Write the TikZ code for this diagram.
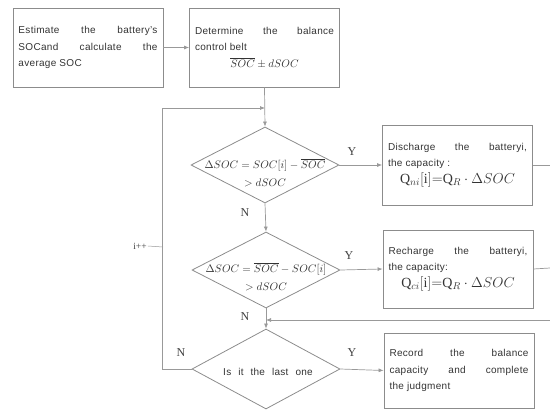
\documentclass[tikz,border=0pt]{standalone}
\usepackage{fontspec}
\setmainfont{Liberation Sans}[LetterSpace=3]
\newfontfamily\seriffont{Liberation Serif}
\setmathrm{Liberation Serif}
\usetikzlibrary{shapes.geometric,arrows.meta}
\begin{document}
\begin{tikzpicture}[x=1pt,y=-1pt,
  box/.style={draw=black!45, line width=0.8pt, minimum width=150pt, minimum height=79pt,
    text width=139pt, align=justify, inner sep=5.5pt,
    font=\fontsize{10}{16.5}\selectfont, text=black!80},
  dia/.style={draw=black!45, line width=0.8pt, shape=diamond, minimum width=148pt,
    minimum height=76pt, inner sep=0pt},
  diatext/.style={font=\fontsize{10.5}{18}\selectfont, text=black!80, align=center, inner sep=0pt},
  conn/.style={draw=black!40, line width=0.7pt},
  arr/.style={conn, -{Latex[length=5pt,width=4pt]}},
  lab/.style={font=\seriffont\fontsize{12}{12}\selectfont, text=black!75, inner sep=1pt}]
\useasboundingbox (0,0) rectangle (550,410);

% boxes
\node[box] (b1) at (88,47.5) {Estimate the battery's\linebreak SOCand calculate the\linebreak average SOC};
\node[box, minimum width=149pt] (b2) at (264.5,47.5) {Determine the balance\linebreak control belt\par
  \makebox[\linewidth]{\fontsize{11}{13}\selectfont$\overline{SOC}\pm dSOC$}};
\node[box, minimum height=80pt, minimum width=149pt] (b3) at (457.5,165) {Discharge the batteryi,\linebreak the capacity :\par
  \makebox[\linewidth]{\fontsize{14}{22}\selectfont$\mathrm{Q}_{ni}[\mathrm{i}]{=}\mathrm{Q}_{R}\cdot\Delta SOC$}};
\node[box, minimum height=78pt] (b4) at (458,269) {Recharge the batteryi,\linebreak the capacity:\par
  \makebox[\linewidth]{\fontsize{14}{22}\selectfont$\mathrm{Q}_{ci}[\mathrm{i}]{=}\mathrm{Q}_{R}\cdot\Delta SOC$}};
\node[box, minimum height=75pt, minimum width=148pt] (b5) at (459,370.5) {Record the balance\linebreak capacity and complete\linebreak the judgment};

% diamonds
\node[dia] (d1) at (265,165) {};
\node[diatext] (t1) at (265,173) {$\Delta SOC = SOC[i]-\overline{SOC}$\\$>dSOC$};
\node[dia] (d2) at (266,270) {};
\node[diatext] (t2) at (266,277) {$\Delta SOC = \overline{SOC}-SOC[i]$\\$>dSOC$};
\node[dia, minimum height=80pt] (d3) at (266,369) {};
\node[font=\fontsize{10}{10}\selectfont, text=black!80] (t3) at (268,372) {Is\hspace{7pt}it\hspace{7pt}the\hspace{7pt}last\hspace{7pt}one};

% junction / free-end coordinates
\coordinate (j1) at (265,108);
\coordinate (j2) at (266,320);
\coordinate (o1) at (550,165);
\coordinate (o2) at (550,268);
\coordinate (r1) at (550,320);
\coordinate (lc) at (163,247);

% connectors
\draw[arr] (b1) -- (b2);
\draw[arr] (b2.south) -- (d1.north);
\draw[arr] (d1.east) -- (b3.west);
\draw[arr] (d1.south) -- (d2.north);
\draw[arr] (d2.east) -- (b4.west);
\draw[arr] (d2.south) -- (d3.north);
\draw[arr] (d3.east) -- (b5.west);
\draw[arr] (d3.west) -- ++(-29,0) |- (j1);
\draw[conn] (b3.east) -- (o1);
\draw[conn] (b4.east) -- (o2);
\draw[arr] (r1) -- (j2);

% labels
\node[lab] (y1) at (352,152) {Y};
\node[lab] (n1) at (245,213) {N};
\node[lab] (y2) at (349,256) {Y};
\node[lab] (n2) at (245,317) {N};
\node[lab] (y3) at (352,353) {Y};
\node[lab] (n3) at (181,353) {N};
\node[font=\seriffont\fontsize{9.5}{10}\selectfont, text=black!75, inner sep=1pt] (ipp) at (140,246) {i++};
\draw[conn, line width=0.5pt] (ipp.east) -- (lc);
\end{tikzpicture}
\end{document}
